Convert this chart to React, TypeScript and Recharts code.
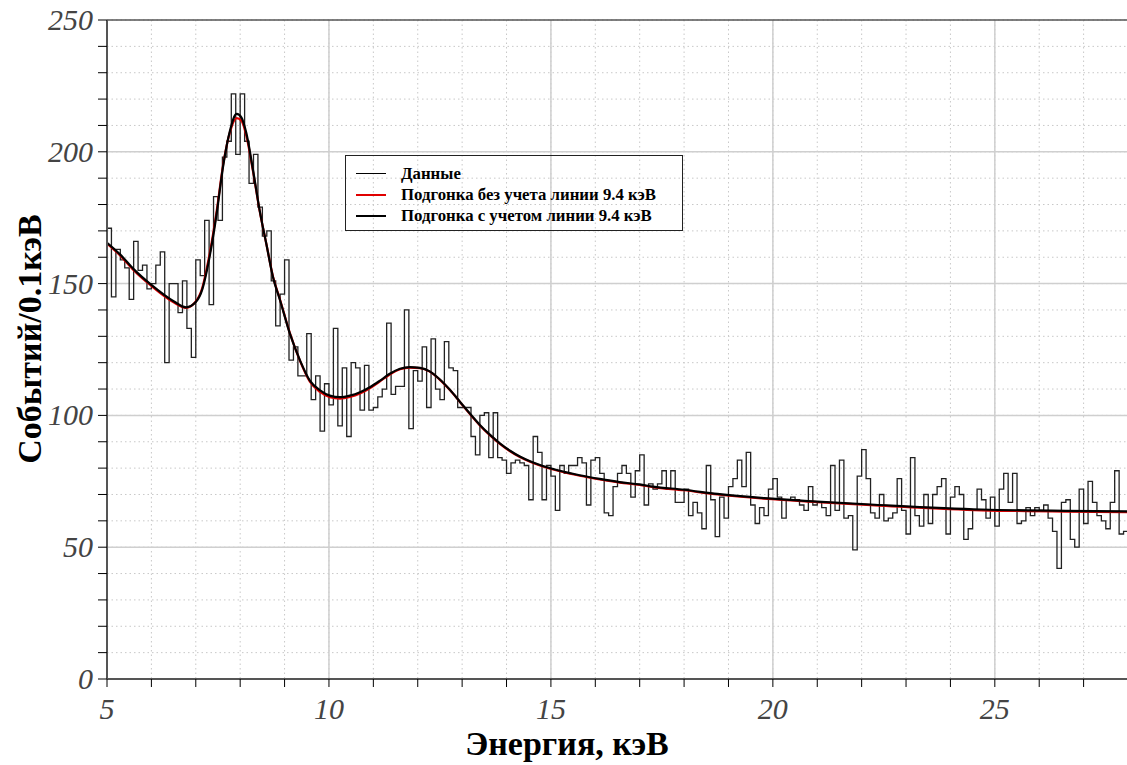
import React from 'react';
import { ComposedChart, Line, XAxis, YAxis, CartesianGrid, ReferenceLine } from 'recharts';

// Histogram: counts per 0.1 keV bin from 5.0 to 28.0 keV
const binStart = 5;
const binWidth = 0.1;
const counts: number[] = [
  171, 145, 163, 159, 156, 144, 166, 155, 157, 148,
  150, 157, 162, 120, 150, 150, 139, 151, 133, 122,
  159, 153, 174, 142, 183, 174, 198, 204, 222, 199,
  222, 204, 188, 199, 179, 168, 170, 151, 134, 146,
  159, 121, 126, 115, 115, 131, 106, 115, 94, 112,
  104, 133, 96, 118, 92, 120, 118, 102, 119, 102,
  103, 107, 110, 135, 108, 111, 111, 140, 95, 117,
  113, 126, 103, 129, 110, 106, 128, 118, 117, 103,
  103, 103, 92, 85, 100, 101, 84, 101, 84, 83,
  78, 82, 83, 82, 81, 68, 92, 86, 68, 81,
  77, 64, 81, 78, 81, 81, 84, 82, 66, 83,
  84, 78, 63, 62, 73, 78, 81, 78, 69, 79,
  85, 66, 74, 72, 74, 79, 72, 79, 67, 67,
  72, 62, 67, 63, 57, 81, 68, 54, 69, 61,
  73, 76, 83, 73, 86, 66, 59, 65, 62, 72,
  76, 69, 61, 68, 69, 68, 66, 64, 73, 66,
  67, 65, 62, 81, 64, 83, 61, 62, 49, 77,
  87, 76, 63, 61, 70, 60, 61, 63, 76, 64,
  55, 84, 62, 58, 70, 59, 70, 73, 76, 55,
  69, 73, 70, 53, 57, 64, 72, 68, 61, 69,
  58, 72, 78, 67, 78, 59, 60, 65, 62, 65,
  64, 66, 61, 56, 42, 67, 68, 53, 50, 72,
  59, 75, 67, 62, 60, 57, 67, 79, 55, 56,
];

// Fit with the 9.4 keV line (black)
const fitWithE: number[] = [5.0, 5.3, 5.6, 6.0, 6.5, 6.78, 7.0, 7.15, 7.25, 7.32, 7.47, 7.62, 7.77, 7.92, 8.03, 8.14, 8.29, 8.44, 8.59, 8.74, 8.9, 9.12, 9.35, 9.57, 9.8, 10.02, 10.25, 10.47, 10.7, 10.92, 11.15, 11.37, 11.6, 11.82, 12.05, 12.27, 12.5, 12.73, 12.95, 13.18, 13.4, 13.63, 13.85, 14.08, 14.3, 14.53, 14.8, 15.2, 15.65, 16.1, 16.55, 17.0, 17.3, 18.0, 18.75, 19.8, 21.0, 22.3, 24.7, 28.0];
const fitWithV: number[] = [165.5, 161, 155.5, 149.5, 143.3, 141, 143, 148, 155, 161, 176.5, 195, 208, 214.4, 213, 207, 193, 177.7, 165, 152.4, 143.6, 131, 120.8, 113.2, 109.5, 107.5, 106.9, 107.5, 108.8, 110.7, 113.2, 115.8, 117.7, 118.3, 118, 116.7, 113.6, 109.6, 105.2, 100.6, 96.4, 92.6, 89.4, 86.6, 84.4, 82.6, 80.9, 79.0, 77.3, 75.9, 74.7, 73.8, 73, 71.8, 70.2, 68.6, 67.3, 66.1, 64.3, 63.6];

// Fit without the 9.4 keV line (red)
const fitWithoutE: number[] = [5.0, 5.3, 5.6, 6.0, 6.5, 6.78, 7.0, 7.15, 7.25, 7.32, 7.47, 7.62, 7.77, 7.92, 8.03, 8.14, 8.29, 8.44, 8.59, 8.74, 8.9, 9.12, 9.35, 9.57, 9.8, 10.02, 10.25, 10.47, 10.7, 10.92, 11.15, 11.37, 11.6, 11.82, 12.05, 12.27, 12.5, 12.73, 12.95, 13.18, 13.4, 13.63, 13.85, 14.08, 14.3, 14.53, 14.8, 15.2, 15.65, 16.1, 16.55, 17.0, 17.3, 18.0, 18.75, 19.8, 21.0, 22.3, 24.7, 28.0];
const fitWithoutV: number[] = [165.2, 160.6, 155.1, 149.1, 142.9, 140.8, 143.2, 148.6, 156, 162, 177.5, 195.5, 207.5, 212.8, 211.8, 206, 192.5, 177.5, 165, 152.6, 143.8, 131.2, 120.6, 112.8, 108.9, 106.9, 106.4, 107, 108.3, 110.3, 112.9, 115.5, 117.5, 118.1, 117.9, 116.6, 113.5, 109.5, 105.1, 100.4, 96.2, 92.4, 89.2, 86.4, 84.2, 82.4, 80.7, 78.8, 77.1, 75.7, 74.5, 73.6, 72.8, 71.6, 70, 68.4, 67.1, 65.9, 64, 63.3];

const xTicks: number[] = [5, 6, 7, 8, 9, 10, 11, 12, 13, 14, 15, 16, 17, 18, 19, 20, 21, 22, 23, 24, 25, 26, 27, 28];
const xLabelTicks: number[] = [5, 10, 15, 20, 25];
const yTicks: number[] = [0, 10, 20, 30, 40, 50, 60, 70, 80, 90, 100, 110, 120, 130, 140, 150, 160, 170, 180, 190, 200, 210, 220, 230, 240, 250];
const yLabelTicks: number[] = [0, 50, 100, 150, 200, 250];
const xMajorGrid: number[] = [10, 15, 20, 25];
const yMajorGrid: number[] = [50, 100, 150, 200];

const xTitle = 'Энергия, кэВ';
const yTitle = 'Событий/0.1кэВ';
const legendItems = [
  { label: 'Данные', color: '#000', width: 1 },
  { label: 'Подгонка без учета линии 9.4 кэВ', color: '#e00000', width: 2 },
  { label: 'Подгонка с учетом линии 9.4 кэВ', color: '#000', width: 2 },
];

const histData = counts.map((c, i) => ({ x: Math.round((binStart + binWidth * i) * 10) / 10, y: c }));
histData.push({ x: 28, y: counts[counts.length - 1] });
const fitWith = fitWithE.map((e, i) => ({ x: e, y: fitWithV[i] }));
const fitWithout = fitWithoutE.map((e, i) => ({ x: e, y: fitWithoutV[i] }));

const tickFont = { fontFamily: '"Liberation Serif", "Times New Roman", serif', fontStyle: 'italic' as const, fontSize: 30, fill: '#444' };

const XTick = (props: any) => {
  const { x, y, payload } = props;
  if (!xLabelTicks.includes(payload.value)) return null;
  return (
    <text x={x} y={y + 30} textAnchor="middle" style={tickFont}>{payload.value}</text>
  );
};

const YTick = (props: any) => {
  const { x, y, payload } = props;
  if (!yLabelTicks.includes(payload.value)) return null;
  return (
    <text x={x - 3} y={y + 10} textAnchor="end" style={tickFont}>{payload.value}</text>
  );
};

export default function App() {
  return (
    <div style={{ position: 'absolute', left: 0, top: 0, width: 1127, height: 765, overflow: 'hidden', background: '#fff' }}>
      <ComposedChart width={1128} height={765} margin={{ top: 20, right: 0, bottom: 0, left: 0 }}>
        <CartesianGrid stroke="#c8c8c8" strokeDasharray="1.5 3" />
        {xMajorGrid.map((v) => (
          <ReferenceLine key={'xm' + v} x={v} stroke="#cfcfcf" strokeWidth={1.5} />
        ))}
        {yMajorGrid.map((v) => (
          <ReferenceLine key={'ym' + v} y={v} stroke="#cfcfcf" strokeWidth={1.5} />
        ))}
        <ReferenceLine y={250} stroke="#555" strokeWidth={1.5} />
        <XAxis
          type="number"
          dataKey="x"
          domain={[5, 28]}
          ticks={xTicks}
          interval={0}
          allowDataOverflow
          height={86}
          tickSize={8}
          tickLine={{ stroke: '#000' }}
          axisLine={{ stroke: '#555', strokeWidth: 2 }}
          tick={<XTick />}
        />
        <YAxis
          type="number"
          domain={[0, 250]}
          ticks={yTicks}
          interval={0}
          allowDataOverflow
          width={107}
          tickSize={9}
          tickLine={{ stroke: '#000' }}
          axisLine={{ stroke: '#555', strokeWidth: 2 }}
          tick={<YTick />}
        />
        <Line data={histData} dataKey="y" type="stepAfter" stroke="#222" strokeWidth={1.3} dot={false} isAnimationActive={false} />
        <Line data={fitWithout} dataKey="y" type="monotone" stroke="#e00000" strokeWidth={2.2} dot={false} isAnimationActive={false} />
        <Line data={fitWith} dataKey="y" type="monotone" stroke="#000" strokeWidth={2.2} dot={false} isAnimationActive={false} />
      </ComposedChart>

      <div style={{ position: 'absolute', left: 0, top: 724, width: 1134, textAlign: 'center', fontFamily: '"Liberation Serif", serif', fontWeight: 'bold', fontSize: 34, color: '#000', lineHeight: '40px' }}>
        {xTitle}
      </div>
      <div style={{ position: 'absolute', left: 30, top: 339, width: 0, height: 0 }}>
        <div style={{ position: 'absolute', left: 0, top: 0, transform: 'translate(-50%, -50%) rotate(-90deg)', whiteSpace: 'nowrap', fontFamily: '"Liberation Serif", serif', fontWeight: 'bold', fontSize: 34, color: '#000', lineHeight: '40px' }}>
          {yTitle}
        </div>
      </div>

      <div style={{ position: 'absolute', left: 345, top: 155, width: 338, height: 76, border: '1.5px solid #222', boxSizing: 'border-box' }}>
        {legendItems.map((it, i) => (
          <div key={i} style={{ position: 'absolute', left: 0, top: 7.5 + i * 21, height: 20, width: 336, display: 'flex', alignItems: 'center' }}>
            <div style={{ marginLeft: 10, width: 30, height: it.width, background: it.color }} />
            <div style={{ marginLeft: 15, fontFamily: '"Liberation Serif", serif', fontWeight: 'bold', fontSize: 16.8, color: '#000', whiteSpace: 'nowrap' }}>{it.label}</div>
          </div>
        ))}
      </div>
    </div>
  );
}
